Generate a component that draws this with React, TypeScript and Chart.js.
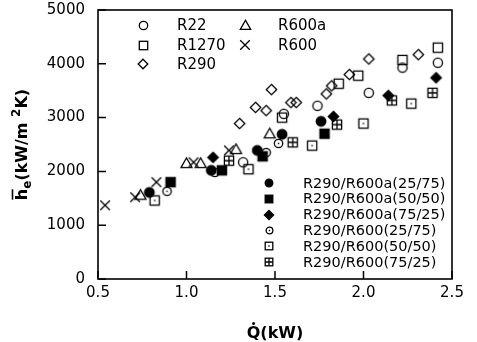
import React, { useEffect, useRef } from 'react';
import { Chart, registerables } from 'chart.js';

Chart.register(...registerables);

// ---- data (Q in kW, h in kW/m2K) ----
const r22Q = [1.32, 1.55, 1.74, 2.03, 2.22, 2.42];
const r22H = [2170, 3070, 3220, 3460, 3930, 4020];
const r1270Q = [1.54, 1.86, 1.97, 2.22, 2.42];
const r1270H = [3000, 3630, 3780, 4070, 4300];
const r290Q = [1.30, 1.39, 1.45, 1.48, 1.59, 1.62, 1.79, 1.82, 1.92, 2.03, 2.31];
const r290H = [2890, 3190, 3130, 3520, 3280, 3280, 3440, 3590, 3800, 4090, 4170];
const r600aQ = [0.74, 1.0, 1.08, 1.28, 1.47];
const r600aH = [1560, 2150, 2150, 2410, 2700];
const r600Q = [0.54, 0.71, 0.83, 1.04, 1.24];
const r600H = [1370, 1520, 1800, 2170, 2390];
const mixA25Q = [0.79, 1.14, 1.4, 1.54, 1.76];
const mixA25H = [1610, 2020, 2390, 2690, 2930];
const mixA50Q = [0.91, 1.2, 1.43, 1.78];
const mixA50H = [1800, 2020, 2280, 2700];
const mixA75Q = [1.15, 1.83, 2.14, 2.41];
const mixA75H = [2260, 3020, 3410, 3740];
const mixB25Q = [0.89, 1.16, 1.45, 1.52];
const mixB25H = [1630, 1980, 2350, 2520];
const mixB50Q = [0.82, 1.35, 1.71, 2.0, 2.27];
const mixB50H = [1460, 2040, 2480, 2890, 3260];
const mixB75Q = [1.24, 1.6, 1.85, 2.16, 2.39];
const mixB75H = [2200, 2540, 2870, 3320, 3460];

const xTickValues = [0.5, 1.0, 1.5, 2.0, 2.5];
const yTickValues = [0, 1000, 2000, 3000, 4000, 5000];

type Kind =
  | 'circle' | 'circleFill' | 'circleDot'
  | 'square' | 'squareFill' | 'squareDot' | 'squarePlus'
  | 'diamond' | 'diamondFill' | 'triangle' | 'cross';

interface Series {
  label: string;
  q: number[];
  h: number[];
  kind: Kind;
  size: number;
  legendSize: number;
}

const series: Series[] = [
  { label: 'R22', q: r22Q, h: r22H, kind: 'circle', size: 4.6, legendSize: 4.2 },
  { label: 'R1270', q: r1270Q, h: r1270H, kind: 'square', size: 4.6, legendSize: 4.2 },
  { label: 'R290', q: r290Q, h: r290H, kind: 'diamond', size: 5.2, legendSize: 4.8 },
  { label: 'R600a', q: r600aQ, h: r600aH, kind: 'triangle', size: 5.5, legendSize: 5.2 },
  { label: 'R600', q: r600Q, h: r600H, kind: 'cross', size: 4.8, legendSize: 4.8 },
  { label: 'R290/R600a(25/75)', q: mixA25Q, h: mixA25H, kind: 'circleFill', size: 4.8, legendSize: 3.8 },
  { label: 'R290/R600a(50/50)', q: mixA50Q, h: mixA50H, kind: 'squareFill', size: 4.6, legendSize: 3.8 },
  { label: 'R290/R600a(75/25)', q: mixA75Q, h: mixA75H, kind: 'diamondFill', size: 5.2, legendSize: 4.6 },
  { label: 'R290/R600(25/75)', q: mixB25Q, h: mixB25H, kind: 'circleDot', size: 4.2, legendSize: 3.4 },
  { label: 'R290/R600(50/50)', q: mixB50Q, h: mixB50H, kind: 'squareDot', size: 4.6, legendSize: 3.8 },
  { label: 'R290/R600(75/25)', q: mixB75Q, h: mixB75H, kind: 'squarePlus', size: 4.6, legendSize: 3.8 },
];

function makeMarker(kind: Kind, h: number): HTMLCanvasElement {
  const S = Math.ceil(2 * h + 4);
  const c = document.createElement('canvas');
  c.width = S;
  c.height = S;
  const g = c.getContext('2d') as CanvasRenderingContext2D;
  const m = S / 2;
  g.strokeStyle = '#000';
  g.fillStyle = '#000';
  g.lineWidth = 1.3;
  const dot = () => g.fillRect(m - 0.7, m - 0.7, 1.4, 1.4);
  switch (kind) {
    case 'circle':
    case 'circleFill':
    case 'circleDot':
      g.beginPath();
      g.arc(m, m, h, 0, Math.PI * 2);
      if (kind === 'circleFill') g.fill();
      g.stroke();
      if (kind === 'circleDot') dot();
      break;
    case 'square':
    case 'squareFill':
    case 'squareDot':
    case 'squarePlus':
      if (kind === 'squareFill') g.fillRect(m - h, m - h, 2 * h, 2 * h);
      g.strokeRect(m - h, m - h, 2 * h, 2 * h);
      if (kind === 'squareDot') dot();
      if (kind === 'squarePlus') {
        g.beginPath();
        g.moveTo(m - h, m);
        g.lineTo(m + h, m);
        g.moveTo(m, m - h);
        g.lineTo(m, m + h);
        g.stroke();
      }
      break;
    case 'diamond':
    case 'diamondFill':
      g.beginPath();
      g.moveTo(m, m - h);
      g.lineTo(m + h, m);
      g.lineTo(m, m + h);
      g.lineTo(m - h, m);
      g.closePath();
      if (kind === 'diamondFill') g.fill();
      g.stroke();
      break;
    case 'triangle':
      g.beginPath();
      g.moveTo(m, m - h);
      g.lineTo(m + h, m + h * 0.75);
      g.lineTo(m - h, m + h * 0.75);
      g.closePath();
      g.stroke();
      break;
    case 'cross':
      g.beginPath();
      g.moveTo(m - h, m - h);
      g.lineTo(m + h, m + h);
      g.moveTo(m + h, m - h);
      g.lineTo(m - h, m + h);
      g.stroke();
      break;
  }
  return c;
}

const FONT = "'DejaVu Sans', 'Liberation Sans', sans-serif";

// legend layout: [series index, marker x, marker y, text x]
const legendTop: [number, number, number, number][] = [
  [0, 143, 25, 177],
  [1, 143, 45, 177],
  [2, 143, 64, 177],
  [3, 245, 25, 278],
  [4, 245, 45, 278],
];
const legendBottom: [number, number, number, number][] = [
  [5, 269, 183, 303],
  [6, 269, 198.5, 303],
  [7, 269, 214.5, 303],
  [8, 269, 230, 303],
  [9, 269, 246, 303],
  [10, 269, 262, 303],
];

export default function App() {
  const ref = useRef<HTMLCanvasElement | null>(null);

  useEffect(() => {
    if (!ref.current) return;
    const markers = series.map((s) => makeMarker(s.kind, s.size));
    const legendMarkers = series.map((s) => makeMarker(s.kind, s.legendSize));

    const decor = {
      id: 'decor',
      afterDraw(chart: any) {
        const { ctx, chartArea: a, scales } = chart;
        ctx.save();
        ctx.strokeStyle = '#000';
        ctx.fillStyle = '#000';
        ctx.lineWidth = 1.6;
        ctx.strokeRect(a.left, a.top, a.right - a.left, a.bottom - a.top);
        // inward tick marks
        ctx.lineWidth = 1.5;
        ctx.beginPath();
        yTickValues.forEach((v) => {
          const y = scales.y.getPixelForValue(v);
          ctx.moveTo(a.left, y);
          ctx.lineTo(a.left + 8, y);
        });
        xTickValues.forEach((v) => {
          const x = scales.x.getPixelForValue(v);
          ctx.moveTo(x, a.bottom);
          ctx.lineTo(x, a.bottom - 8);
        });
        ctx.stroke();

        // legends
        ctx.textBaseline = 'middle';
        ctx.textAlign = 'left';
        ctx.font = `15px ${FONT}`;
        legendTop.forEach(([i, mx, my, tx]) => {
          const img = legendMarkers[i];
          ctx.drawImage(img, Math.round(mx - img.width / 2), Math.round(my - img.height / 2));
          ctx.fillText(series[i].label, tx, my + 1);
        });
        ctx.font = `14.5px ${FONT}`;
        legendBottom.forEach(([i, mx, my, tx]) => {
          const img = legendMarkers[i];
          ctx.drawImage(img, Math.round(mx - img.width / 2), Math.round(my - img.height / 2));
          ctx.fillText(series[i].label, tx, my + 1);
        });

        // x title: Q with dot, (kW)
        ctx.textBaseline = 'alphabetic';
        ctx.font = `bold 16px ${FONT}`;
        const xt = 'Q(kW)';
        const xw = ctx.measureText(xt).width;
        const xcx = (a.left + a.right) / 2;
        const xs = xcx - xw / 2;
        ctx.fillText(xt, xs, 338);
        const qw = ctx.measureText('Q').width;
        ctx.beginPath();
        ctx.arc(xs + qw / 2, 323.5, 1.5, 0, Math.PI * 2);
        ctx.fill();

        // y title: h-bar subscript e (kW/m 2K)
        ctx.translate(21, (a.top + a.bottom) / 2);
        ctx.rotate(-Math.PI / 2);
        const big = `bold 16px ${FONT}`;
        const small = `bold 12px ${FONT}`;
        const parts: [string, string, number][] = [
          ['h', big, 0],
          ['e', small, 4],
          ['(kW/m ', big, 0],
          ['2', small, -7],
          ['K)', big, 0],
        ];
        let total = 0;
        parts.forEach(([t, f]) => {
          ctx.font = f;
          total += ctx.measureText(t).width;
        });
        let x = -total / 2;
        const base = 6;
        parts.forEach(([t, f, dy], idx) => {
          ctx.font = f;
          const w = ctx.measureText(t).width;
          ctx.fillText(t, x, base + dy);
          if (idx === 0) {
            ctx.lineWidth = 1.6;
            ctx.beginPath();
            ctx.moveTo(x + 0.5, base - 14.5);
            ctx.lineTo(x + w - 0.5, base - 14.5);
            ctx.stroke();
          }
          x += w;
        });
        ctx.restore();
      },
    };

    const chart = new Chart(ref.current, {
      type: 'scatter',
      data: {
        datasets: series.map((s, i) => ({
          label: s.label,
          data: s.q.map((q, j) => ({ x: q, y: s.h[j] })),
          pointStyle: markers[i] as any,
          pointRadius: 5,
          pointHoverRadius: 5,
          borderColor: '#000',
          backgroundColor: '#000',
        })),
      },
      options: {
        responsive: false,
        animation: false,
        layout: { padding: { top: 10, right: 25, left: 0, bottom: 0 } },
        plugins: {
          legend: { display: false },
          tooltip: { enabled: false },
          title: { display: false },
        },
        scales: {
          x: {
            type: 'linear',
            min: 0.5,
            max: 2.5,
            afterFit: (scale: any) => {
              scale.height = 63;
              scale.paddingLeft = 0;
              scale.paddingRight = 0;
            },
            afterBuildTicks: (scale: any) => {
              scale.ticks = xTickValues.map((v) => ({ value: v }));
            },
            grid: { display: false, drawTicks: false },
            border: { display: false },
            ticks: {
              color: '#000',
              font: { family: FONT, size: 15 },
              padding: 5,
              maxRotation: 0,
              callback: (v: any) => Number(v).toFixed(1),
            },
          },
          y: {
            type: 'linear',
            min: 0,
            max: 5000,
            afterFit: (scale: any) => {
              scale.width = 98;
              scale.paddingTop = 0;
              scale.paddingBottom = 0;
            },
            afterBuildTicks: (scale: any) => {
              scale.ticks = yTickValues.map((v) => ({ value: v }));
            },
            grid: { display: false, drawTicks: false },
            border: { display: false },
            ticks: {
              color: '#000',
              font: { family: FONT, size: 15 },
              padding: 13,
              callback: (v: any) => String(v),
            },
          },
        },
      },
      plugins: [decor],
    });
    return () => chart.destroy();
  }, []);

  return (
    <div style={{ position: 'absolute', left: 0, top: 0, width: 477, height: 342, background: '#fff' }}>
      <canvas ref={ref} width={477} height={342} style={{ display: 'block' }} />
    </div>
  );
}
